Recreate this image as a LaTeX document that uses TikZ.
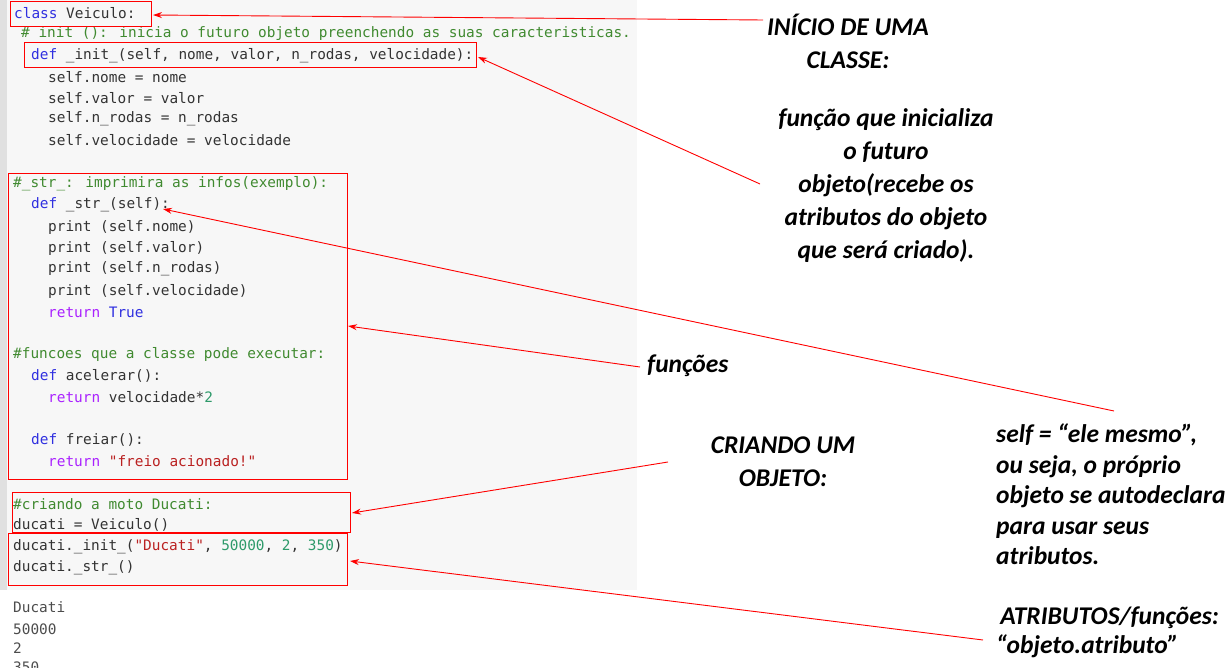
\documentclass[tikz,border=0pt]{standalone}
\usepackage{fontspec}
\setmainfont{Carlito}
\newfontfamily\codefont{DejaVu Sans Mono}
\usetikzlibrary{arrows.meta}
\definecolor{bgc}{HTML}{F7F7F7}
\definecolor{kw}{HTML}{3030E0}
\definecolor{cm}{HTML}{408A30}
\definecolor{rt}{HTML}{AA22FF}
\definecolor{st}{HTML}{BA2121}
\definecolor{nm}{HTML}{2E9A6A}
\definecolor{tx}{HTML}{333333}
\definecolor{rd}{HTML}{FF0000}
\newcommand{\K}[1]{\textcolor{kw}{#1}}
\newcommand{\C}[1]{\textcolor{cm}{#1}}
\newcommand{\R}[1]{\textcolor{rt}{#1}}
\newcommand{\Sq}[1]{\textcolor{st}{#1}}
\newcommand{\N}[1]{\textcolor{nm}{#1}}
\tikzset{
  code/.style={anchor=west,inner sep=0pt,font=\codefont\fontsize{14.4}{16}\selectfont,text=tx},
  outtext/.style={code,text=black!70},
  box/.style={draw=rd,line width=1pt},
  note/.style={font=\fontsize{25.5}{33}\selectfont\bfseries\itshape,text=black,inner sep=0pt},
  arr/.style={draw=rd,line width=0.9pt,-{Stealth[length=9pt,width=6pt]}}
}
\begin{document}
\begin{tikzpicture}[x=1pt,y=-1pt]
\useasboundingbox (0,0) rectangle (1232,668);
\fill[bgc] (0,0) rectangle (637,590);
\fill[black!12] (0,0) rectangle (7,590);
% code
\node[code] (l1) at (14,13) {\K{class} Veiculo:};
\node[code] (l2) at (21,34) {\C{\# init (): inicia o futuro objeto preenchendo as suas caracteristicas.}};
\node[code] (l3) at (31,56) {\K{def} \_init\_(self, nome, valor, n\_rodas, velocidade):};
\node[code] (l4) at (48,77) {self.nome = nome};
\node[code] (l5) at (48,98) {self.valor = valor};
\node[code] (l6) at (48,119) {self.n\_rodas = n\_rodas};
\node[code] (l7) at (48,140) {self.velocidade = velocidade};
\node[code] (l8) at (13,184) {\C{\#\_str\_: imprimira as infos(exemplo):}};
\node[code] (l9) at (31,205) {\K{def} \_str\_(self):};
\node[code] (l10) at (48,227) {print (self.nome)};
\node[code] (l11) at (48,248) {print (self.valor)};
\node[code] (l12) at (48,269) {print (self.n\_rodas)};
\node[code] (l13) at (48,291) {print (self.velocidade)};
\node[code] (l14) at (48,312) {\R{return} \K{True}};
\node[code] (l15) at (13,355) {\C{\#funcoes que a classe pode executar:}};
\node[code] (l16) at (31,376) {\K{def} acelerar():};
\node[code] (l17) at (48,397) {\R{return} velocidade*\N{2}};
\node[code] (l18) at (31,440) {\K{def} freiar():};
\node[code] (l19) at (48,461) {\R{return} \Sq{"freio acionado!"}};
\node[code] (l20) at (13,504) {\C{\#criando a moto Ducati:}};
\node[code] (l21) at (13,525) {ducati = Veiculo()};
\node[code] (l22) at (13,547) {ducati.\_init\_(\Sq{"Ducati"}, \N{50000}, \N{2}, \N{350})};
\node[code] (l23) at (13,568) {ducati.\_str\_()};
\node[outtext] (o1) at (13,607) {Ducati};
\node[outtext] (o2) at (13,629) {50000};
\node[outtext] (o3) at (13,648) {2};
\node[outtext] (o4) at (13,667) {350};
% boxes
\draw[box] (10,2) rectangle (151,27);
\draw[box] (24,43) rectangle (476,68);
\draw[box] (8,174) rectangle (347,479);
\draw[box] (12,492) rectangle (350,532);
\draw[box] (8,533) rectangle (347,585);
\coordinate (h1) at (153,15);
\coordinate (h2) at (478,57);
\coordinate (h3) at (163,209);
\coordinate (h4) at (348,326);
\coordinate (h5) at (352,513);
\coordinate (h6) at (350,561);
% notes
\node[note,align=center] (n1) at (848,41) {INÍCIO DE UMA\\CLASSE:};
\node[note,align=center] (n2) at (886,186) {função que inicializa\\o futuro\\objeto(recebe os\\atributos do objeto\\que será criado).};
\node[note,anchor=west] (n3) at (647,366) {funções};
\node[note,align=center] (n4) at (783,462) {CRIANDO UM\\OBJETO:};
\node[note,align=left,anchor=north west,font=\fontsize{25.5}{30.5}\selectfont\bfseries\itshape] (n5) at (996,424) {self = “ele mesmo”,\\ou seja, o próprio\\objeto se autodeclara\\para usar seus\\atributos.};
\node[note,align=left,anchor=north west,font=\fontsize{25.5}{29}\selectfont\bfseries\itshape] (n6) at (996,607) {\,ATRIBUTOS/funções:\\“objeto.atributo”};
\coordinate (t1) at (763,20);
\coordinate (t2) at (760,184);
\coordinate (t3) at (1114,411);
\coordinate (t4) at (640,367);
\coordinate (t5) at (668,462);
\coordinate (t6) at (983,640);
\draw[arr] (t1) -- (h1);
\draw[arr] (t2) -- (h2);
\draw[arr] (t3) -- (h3);
\draw[arr] (t4) -- (h4);
\draw[arr] (t5) -- (h5);
\draw[arr] (t6) -- (h6);
\end{tikzpicture}
\end{document}
